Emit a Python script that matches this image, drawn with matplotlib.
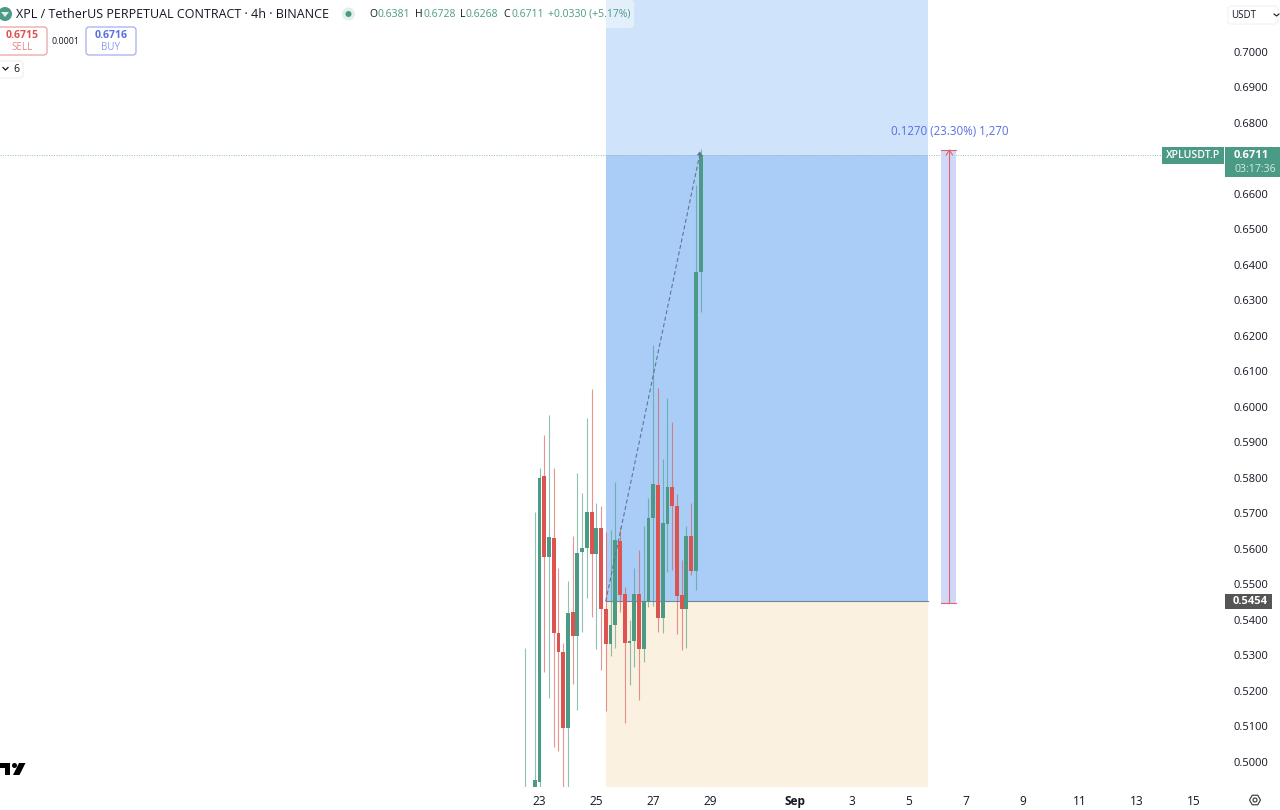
#!/usr/bin/env python

import numpy as np
import pandas as pd
import matplotlib
matplotlib.use('Agg')
import matplotlib.pyplot as plt
import matplotlib.dates as mdates
from matplotlib.patches import FancyBboxPatch, Rectangle, Circle, Polygon

plt.rcParams['font.family'] = ['Open Sans', 'DejaVu Sans']

#Candles, 4h bars (first two sit below the visible range)
bar_times = pd.date_range('2025-08-22 12:00', periods=38, freq='4h')
opens = [.4880, .4700, .4900, .4944, .5806, .5578, .5631, .5363, .5310, .5096,
         .5423, .5355, .5592, .5603, .5704, .5586, .5659, .5431, .5332, .5386,
         .5623, .5473, .5335, .5341, .5473, .5318, .5451, .5687, .5780, .5406,
         .5670, .5775, .5721, .5470, .5431, .5637, .5538, .6381]
highs = [.5321, .4850, .5704, .5828, .5921, .5978, .5828, .5547, .5335, .5510,
         .5637, .5814, .5758, .5969, .6051, .5730, .5721, .5648, .5654, .5789,
         .5662, .5493, .5400, .5547, .5597, .5665, .5744, .6175, .6054, .5854,
         .6025, .5958, .5755, .5569, .5665, .5730, .6625, .6728]
lows = [.4850, .4650, .4900, .4900, .5254, .5180, .5042, .5031, .4900, .4900,
        .5220, .5146, .5366, .5462, .5408, .5318, .5259, .5144, .5299, .5321,
        .5423, .5110, .5217, .5268, .5175, .5282, .5437, .5439, .5366, .5363,
        .5535, .5541, .5361, .5315, .5321, .5527, .5485, .6268]
closes = [.4900, .4800, .4949, .5800, .5578, .5634, .5363, .5310, .5096, .5420,
          .5355, .5589, .5603, .5704, .5586, .5659, .5431, .5332, .5386, .5625,
          .5470, .5335, .5341, .5473, .5318, .5451, .5687, .5783, .5406, .5673,
          .5775, .5721, .5468, .5431, .5637, .5538, .6381, .6711]

#0.6700 is hidden behind the last price label in the reference
price_ticks = [.50, .51, .52, .53, .54, .55, .56, .57, .58, .59, .60, .61, .62,
               .63, .64, .65, .66, .68, .69, .70]
date_ticks = ['2025-08-23', '2025-08-25', '2025-08-27', '2025-08-29', '2025-09-01',
              '2025-09-03', '2025-09-05', '2025-09-07', '2025-09-09', '2025-09-11',
              '2025-09-13', '2025-09-15']
date_labels = ['23', '25', '27', '29', 'Sep', '3', '5', '7', '9', '11', '13', '15']

last_price = 0.6711
entry_price = 0.5454
measure_top = 0.6724
measure_bottom = 0.5448

GREEN = '#4b9a85'
RED = '#dc5350'
BLUE_TXT = '#5a6fe0'
INK = '#131722'

def num(s):
    return mdates.date2num(pd.Timestamp(s))

fig = plt.figure(figsize=(12.8, 8.1), dpi=100, facecolor='white')
ax = fig.add_axes([0, 23/810, 1225/1280, 787/810])

#Pixel scale
px_day = 28.43
px_price = 3550.
t0 = num('2025-08-23') - 539.5/px_day
ax.set_xlim(t0, t0 + 1225/px_day)
ax.set_ylim(0.7 - (787 - 52)/px_price, 0.7 + 52/px_price)

#Long position tool
tool_l, tool_r = num('2025-08-25 08:00'), num('2025-09-05 16:00')
ytop = ax.get_ylim()[1]
ybot = ax.get_ylim()[0]
ax.add_patch(Rectangle((tool_l, last_price), tool_r - tool_l, ytop - last_price, fc='#cfe3fa', ec='none', zorder=1))
ax.add_patch(Rectangle((tool_l, entry_price), tool_r - tool_l, last_price - entry_price, fc='#a9cdf6', ec='none', zorder=1))
ax.add_patch(Rectangle((tool_l, ybot), tool_r - tool_l, entry_price - ybot, fc='#faf1e0', ec='none', zorder=1))
ax.plot([tool_l, tool_r], [entry_price, entry_price], color='#6f8796', lw=0.8, zorder=2)

#Last price line
ax.axhline(last_price, color='#8fbfb2', lw=0.7, ls=(0, (1, 1.5)), zorder=2)

#Candles
t = mdates.date2num(bar_times)
o, h, l, c = np.array(opens), np.array(highs), np.array(lows), np.array(closes)
cols = np.where(c >= o, GREEN, RED)
ax.vlines(t, l, h, colors=cols, lw=0.8, alpha=0.62, zorder=3)
ax.bar(t, np.maximum(np.abs(c - o), 0.0004), bottom=np.minimum(o, c), width=0.135,
       color=cols, linewidth=0, zorder=4)

#Dashed trend arrow
ax.annotate('', xy=(num('2025-08-28 16:00'), last_price + 0.0012),
            xytext=(tool_l, entry_price),
            arrowprops=dict(arrowstyle='-|>', color='#5f7590', lw=0.8, ls=(0, (3, 3)),
                            mutation_scale=7, shrinkA=0, shrinkB=0), zorder=5)

#Measure tool
m_l, m_r = num('2025-09-06 03:00'), num('2025-09-06 15:30')
m_c = num('2025-09-06 10:00')
ax.add_patch(Rectangle((m_l, measure_bottom), m_r - m_l, measure_top - measure_bottom, fc='#d0d8fa', ec='none', zorder=2))
ax.plot([m_c, m_c], [measure_bottom, measure_top], color='#e0646c', lw=0.8, zorder=3)
ax.plot([m_l, m_r], [measure_top, measure_top], color='#e0646c', lw=0.8, zorder=3)
ax.plot([m_l, m_r], [measure_bottom, measure_bottom], color='#e0646c', lw=0.8, zorder=3)
ax.plot([m_c - 0.11, m_c, m_c + 0.11], [measure_top - 0.0014, measure_top, measure_top - 0.0014], color='#e0646c', lw=0.8, zorder=3)
ax.text(m_c, 0.6777, '0.1270 (23.30%) 1,270', color=BLUE_TXT, fontsize=8.3, ha='center', va='center', zorder=6)

#Axes
ax.yaxis.tick_right()
ax.set_yticks(price_ticks)
ax.set_yticklabels(['%.4f' % p for p in price_ticks], fontsize=8.0, color=INK)
ax.set_xticks([num(d) for d in date_ticks])
ax.set_xticklabels(date_labels, fontsize=8.6, color=INK)
ax.get_xticklabels()[4].set_fontweight('bold')
ax.tick_params(axis='y', length=0, pad=6)
ax.tick_params(axis='x', length=0, pad=6)
for s in ax.spines.values():
    s.set_visible(False)

#Overlay in pixel coordinates for the interface bits
ui = fig.add_axes([0, 0, 1, 1], facecolor='none')
ui.set_xlim(0, 1280)
ui.set_ylim(810, 0)
ui.axis('off')

def box(x, y, w, h, fc='white', ec='none', lw=0.8, r=3, alpha=1):
    ui.add_patch(FancyBboxPatch((x + r, y + r), w - 2*r, h - 2*r, boxstyle='round,pad=%d,rounding_size=%d' % (r, r),
                                fc=fc, ec=ec, lw=lw, alpha=alpha))

#Header
box(362, 0, 272, 28, fc='white', alpha=0.45)
ui.add_patch(Circle((5, 14), 7, fc=GREEN, ec='none'))
ui.add_patch(Polygon([[1, 12], [9, 12], [5, 17]], fc='#dff0ea', ec='none'))
ui.text(16, 14.5, 'XPL / TetherUS PERPETUAL CONTRACT · 4h · BINANCE', fontsize=9.0, color=INK, va='center')
ui.add_patch(Circle((348.5, 14), 6.5, fc='#e2f0ec', ec='none'))
ui.add_patch(Circle((348.5, 14), 3, fc=GREEN, ec='none'))
ohlc_names = [(369, 'O'), (415, 'H'), (460, 'L'), (503, 'C')]
ohlc_vals = [(378, '0.6381'), (423, '0.6728'), (466, '0.6268'), (511, '0.6711'), (548, '+0.0330 (+5.17%)')]
for x, s in ohlc_names:
    ui.text(x, 14.5, s, fontsize=7.5, color=INK, va='center')
for x, s in ohlc_vals:
    ui.text(x, 14.5, s, fontsize=7.5, color=GREEN, va='center')

#Sell / buy
box(-3, 27, 50, 28, ec='#e39a98')
ui.text(22, 35.5, '0.6715', fontsize=7.6, color=RED, weight='bold', ha='center', va='center')
ui.text(22, 47.5, 'SELL', fontsize=7, color='#e58784', ha='center', va='center')
ui.text(66, 41, '0.0001', fontsize=6.4, color=INK, ha='center', va='center')
box(86, 27, 50, 28, ec='#9aa6ec')
ui.text(111, 35.5, '0.6716', fontsize=7.6, color=BLUE_TXT, weight='bold', ha='center', va='center')
ui.text(111, 47.5, 'BUY', fontsize=7, color='#8c9ae8', ha='center', va='center')
box(-3, 61, 26, 17, ec='#eeeeee')
ui.plot([3, 5.5, 8], [67.5, 70, 67.5], color=INK, lw=0.9)
ui.text(16, 69.5, '6', fontsize=7.6, color=INK, ha='center', va='center')

#Currency selector
box(1228, 6, 50, 18, ec='#f2f2f2')
ui.text(1231, 15, 'USDT', fontsize=7, color=INK, va='center')
ui.plot([1274, 1276.5, 1279], [14, 16, 14], color=INK, lw=0.8)

#Price labels
ui.add_patch(Rectangle((1162, 147), 62, 17, fc=GREEN, ec='none'))
ui.text(1193, 156, 'XPLUSDT.P', fontsize=7.6, color='white', weight='semibold', ha='center', va='center')
ui.add_patch(Rectangle((1225, 147), 55, 30, fc=GREEN, ec='none'))
ui.text(1251, 156, '0.6711', fontsize=8.0, color='white', weight='bold', ha='center', va='center')
ui.text(1255, 169.5, '03:17:36', fontsize=7.6, color='#d5ebe5', ha='center', va='center')
ui.add_patch(Rectangle((1225, 594), 47, 15, fc='#555555', ec='none'))
ui.text(1250, 601.5, '0.5454', fontsize=8.0, color='white', weight='bold', ha='center', va='center')

#Logo and settings icon
ui.add_patch(Polygon([[0, 763], [10, 763], [10, 775], [5, 775], [5, 768], [0, 768]], fc='black', ec='none'))
ui.add_patch(Circle((14.5, 765.5), 2.5, fc='black', ec='none'))
ui.add_patch(Polygon([[19, 763], [25.5, 763], [19.5, 775], [13, 775]], fc='black', ec='none'))
ang = np.deg2rad(np.arange(0, 360, 60))
ui.add_patch(Polygon(np.c_[1255 + 5.5*np.cos(ang), 800 + 5.5*np.sin(ang)], fc='none', ec='#333333', lw=0.8))
ui.add_patch(Circle((1255, 800), 2, fc='none', ec='#333333', lw=0.8))

plt.savefig('out.png', dpi=100)
